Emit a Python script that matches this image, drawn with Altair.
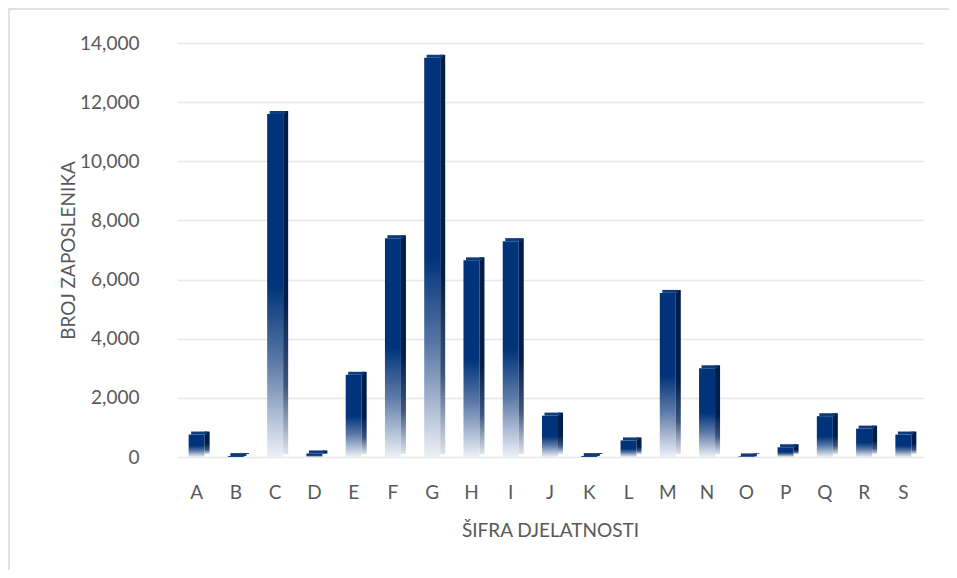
import altair as alt
import pandas as pd

categories = list("ABCDEFGHIJKLMNOPQRS")
values = [760, 30, 11600, 120, 2780, 7400, 13500, 6650, 7300, 1400,
          30, 560, 5550, 3000, 20, 330, 1380, 960, 760]
y_ticks = [0, 2000, 4000, 6000, 8000, 10000, 12000, 14000]

df = pd.DataFrame({"cat": categories, "val": values})

FONT = "Lato"
TXT = "#595959"

front_grad = alt.LinearGradient(
    gradient="linear", x1=0, x2=0, y1=0, y2=1,
    stops=[
        alt.GradientStop(color="#00337a", offset=0),
        alt.GradientStop(color="#00337a", offset=0.5),
        alt.GradientStop(color="#5a78a6", offset=0.72),
        alt.GradientStop(color="#b9c6db", offset=0.9),
        alt.GradientStop(color="#eef1f6", offset=1),
    ],
)
side_grad = alt.LinearGradient(
    gradient="linear", x1=0, x2=0, y1=0, y2=1,
    stops=[
        alt.GradientStop(color="#001d4a", offset=0),
        alt.GradientStop(color="#001d4a", offset=0.55),
        alt.GradientStop(color="#3d557d", offset=0.8),
        alt.GradientStop(color="#dfe4ec", offset=1),
    ],
)

x_enc = alt.X(
    "cat:N", sort=categories,
    scale=alt.Scale(paddingInner=0, paddingOuter=0),
    axis=alt.Axis(
        title="ŠIFRA DJELATNOSTI", labelAngle=0, labelBaseline="middle",
        labelPadding=35, ticks=False, tickSize=0, domain=False, grid=False,
        titleY=73, titleX=373, titleBaseline="middle", titleAlign="center",
    ),
)
y_scale = alt.Scale(domain=[0, 14000])
y_enc = alt.Y(
    "val:Q", scale=y_scale,
    axis=alt.Axis(
        title="BROJ ZAPOSLENIKA", values=y_ticks, format=",.0f",
        ticks=False, tickSize=0, domain=False, labelPadding=38,
        gridColor="#e8e8e8", gridWidth=1.3,
        titleAngle=270, titleX=-109, titleY=207,
        titleAlign="center", titleBaseline="middle",
    ),
)

base = alt.Chart(df)

front = base.mark_bar(size=16, fill=front_grad, strokeWidth=0).encode(
    x=x_enc, y=y_enc, y2=alt.datum(0)
)
side = base.mark_bar(size=5, xOffset=10.5, yOffset=-3, y2Offset=-3,
                     fill=side_grad, strokeWidth=0).encode(
    x=alt.X("cat:N", sort=categories), y=alt.Y("val:Q", scale=y_scale), y2=alt.datum(0)
)
top = base.mark_bar(size=16, xOffset=2.5, yOffset=-3, y2Offset=0,
                    fill="#0e3b7f", strokeWidth=0).encode(
    x=alt.X("cat:N", sort=categories), y=alt.Y("val:Q", scale=y_scale), y2="val:Q"
)

border = alt.Chart(alt.Data(values=[{}])).mark_rect(
    fill=None, stroke="#d9d9d9", strokeWidth=1.5
).encode(
    x=alt.value(-168), x2=alt.value(900), y=alt.value(-34), y2=alt.value(700)
)

chart = alt.layer(border, front, side, top).properties(
    width=746, height=414,
    autosize=alt.AutoSizeParams(type="none"),
    padding={"left": 169, "top": 35, "right": 26, "bottom": 113},
).configure_view(strokeWidth=0).configure_axis(
    labelFont=FONT, labelFontSize=19, labelColor=TXT,
    titleFont=FONT, titleFontSize=19, titleColor=TXT, titleFontWeight="normal",
)

chart.save("out.html", embed_options={"renderer": "svg", "actions": False})
